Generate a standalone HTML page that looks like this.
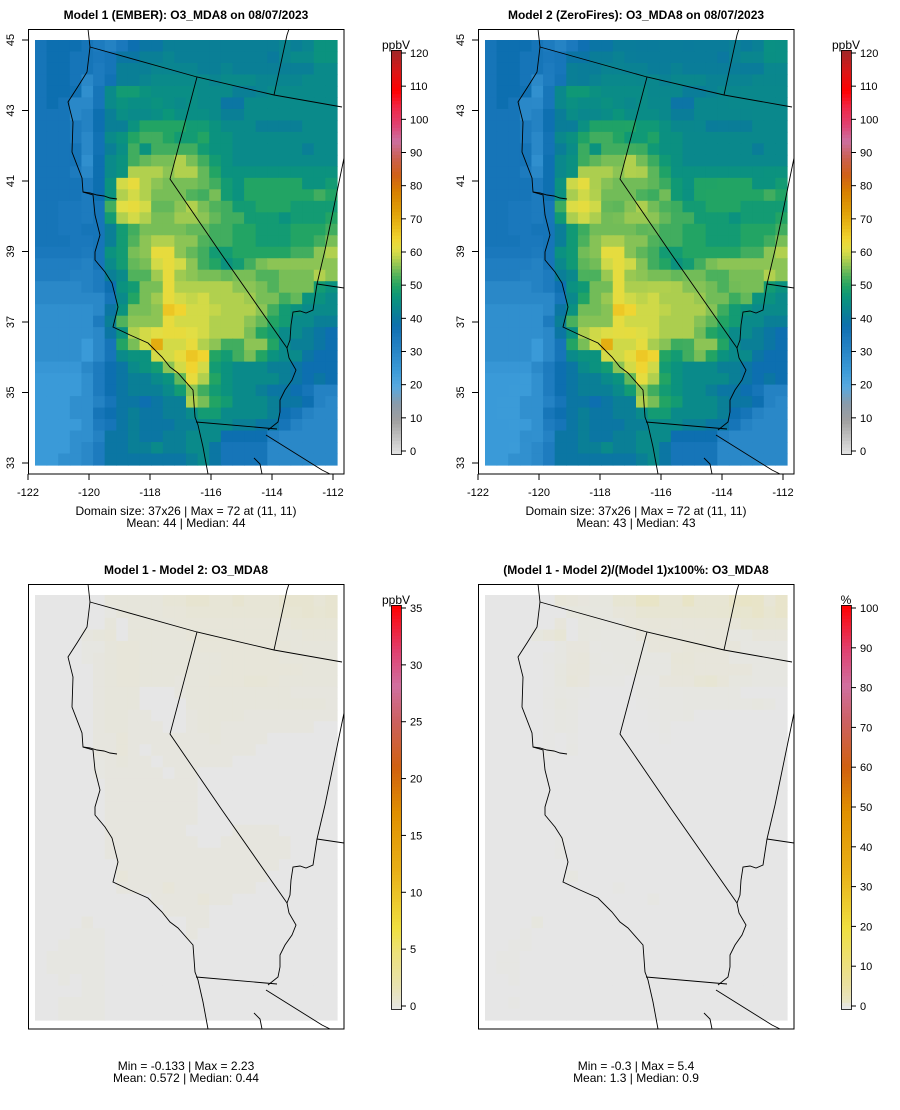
<!DOCTYPE html>
<html><head><meta charset="utf-8"><style>
html,body{margin:0;padding:0;background:#fff;overflow:hidden;}
svg{display:block;font-family:"Liberation Sans",Arial,sans-serif;}
</style></head><body>
<svg id="fig" width="900" height="1110" viewBox="0 0 900 1110" xmlns="http://www.w3.org/2000/svg"></svg>
<script>
// ---- data ----
const model1 = [
[36,38,38,38,36,34,32,35,38,40,40,42,42,42,42,42,42,42,42,42,42,43,42,43,46,46],
[36,38,38,36,36,35,36,40,40,42,42,43,42,42,42,42,42,42,42,42,41,43,44,44,46,46],
[36,38,38,36,36,34,36,42,42,42,43,43,43,43,42,42,43,42,42,42,42,42,42,42,44,44],
[36,38,38,36,30,34,37,42,42,43,44,44,44,44,44,43,44,44,44,43,43,43,43,44,44,44],
[36,38,38,37,28,36,44,48,48,46,45,45,45,45,44,44,44,42,42,43,44,44,44,44,44,44],
[36,38,36,30,30,36,44,46,45,45,46,45,44,45,44,44,40,40,44,44,44,44,44,44,44,44],
[36,36,36,30,32,38,42,45,44,44,45,47,45,45,45,44,42,42,44,44,44,44,44,44,44,44],
[36,36,36,34,32,38,42,42,46,50,50,50,50,48,48,46,44,44,44,42,42,42,42,44,44,44],
[36,36,36,34,30,37,44,46,50,52,52,50,48,48,50,46,46,44,44,44,44,44,44,44,44,44],
[36,36,36,36,30,37,42,45,52,46,52,52,52,52,48,46,46,44,44,44,44,44,44,42,44,44],
[36,36,36,36,28,38,44,46,52,54,55,55,58,55,52,48,46,44,44,44,44,44,44,44,44,44],
[36,36,36,34,30,38,44,46,58,58,58,56,58,58,54,50,46,46,46,46,46,46,46,46,46,46],
[36,36,36,36,34,38,46,60,62,58,56,55,55,55,54,52,48,46,50,50,50,50,50,46,46,48],
[36,36,36,36,34,38,46,58,60,58,55,55,55,53,52,55,48,46,50,50,50,50,50,50,52,50],
[36,36,35,35,34,36,52,61,62,60,54,54,56,58,55,53,52,48,48,50,50,50,48,48,48,48],
[36,36,35,35,34,36,48,58,60,58,55,55,57,57,56,54,52,52,48,48,48,46,48,48,48,50],
[36,36,35,35,36,36,42,48,52,55,55,55,55,54,54,52,52,50,50,48,48,48,50,50,50,52],
[36,36,36,35,35,36,42,48,53,56,58,58,56,56,53,52,52,50,50,48,48,48,50,50,52,55],
[35,35,35,35,34,36,46,48,55,56,62,62,56,54,52,48,48,50,50,50,50,50,52,52,56,58],
[33,33,33,33,32,36,44,48,54,55,60,62,60,56,52,50,46,48,52,55,56,56,56,56,56,56],
[33,33,33,32,32,34,42,44,53,53,57,62,57,56,55,55,54,55,55,53,53,55,55,55,58,56],
[30,30,30,30,32,34,38,46,48,55,55,62,58,58,58,58,58,56,56,55,53,55,55,55,48,46],
[30,30,30,30,30,30,36,44,50,55,57,62,60,59,60,58,58,58,57,55,55,52,54,46,46,44],
[28,28,28,28,28,30,40,46,55,55,56,66,64,60,60,59,58,58,58,56,52,48,46,44,44,44],
[28,28,28,28,28,34,42,53,56,56,56,62,60,60,60,58,58,58,56,54,50,48,44,44,42,42],
[28,28,28,28,28,30,40,46,58,60,61,62,62,61,60,58,58,58,55,50,48,44,44,42,40,38],
[28,28,28,28,25,30,36,50,55,60,70,60,60,62,58,56,52,52,56,56,50,44,42,42,40,38],
[28,28,28,28,25,30,36,44,46,46,60,60,62,66,64,50,48,52,55,50,46,44,44,40,38,38],
[26,26,26,26,30,34,38,40,44,46,48,56,60,64,60,48,46,44,44,44,42,42,40,38,38,38],
[25,25,25,25,28,34,38,40,42,42,44,46,54,62,58,50,46,44,44,44,44,42,40,38,40,38],
[25,25,25,25,28,34,38,40,42,42,42,44,48,56,52,48,46,44,44,42,40,40,38,36,32,32],
[25,25,25,28,28,32,36,40,40,38,40,42,42,58,55,50,48,44,44,44,42,40,40,38,32,30],
[25,25,25,28,28,36,38,40,42,40,40,42,42,44,48,48,44,44,44,44,42,38,36,32,30,30],
[25,25,25,25,28,34,36,40,42,40,40,40,42,42,44,44,44,42,42,40,40,36,32,30,30,30],
[25,25,25,28,28,32,40,40,42,40,40,42,42,44,44,44,38,38,38,38,32,30,30,30,30,30],
[25,25,25,28,30,34,40,40,42,42,44,42,42,44,44,40,36,36,36,36,30,30,30,30,30,30],
[25,25,28,28,30,34,40,40,40,40,40,40,40,42,44,40,36,36,36,36,30,30,30,30,30,30]
];
const diff = [
[0,0,0,0,0,0,0.4,0.4,0.4,0.4,0.4,0.6,0.6,0.8,0.8,0.6,0.6,0.8,0.6,0.6,0.6,0.8,0.8,0.8,0.6,0.8],
[0,0,0,0,0,0,0.2,0.4,0.4,0.4,0.4,0.5,0.5,0.6,0.6,0.6,0.6,0.6,0.6,0.6,0.6,0.7,0.7,0.8,0.7,0.8],
[0,0,0,0,0,0,0.4,0,0.4,0.4,0.4,0.4,0.5,0.5,0.5,0.5,0.5,0.5,0.5,0.5,0.5,0.5,0.6,0.6,0.6,0.6],
[0,0,0,0,0.3,0.4,0.5,0,0.4,0.4,0.4,0.4,0.4,0.5,0.5,0.5,0.5,0.5,0.5,0.5,0.5,0.4,0.4,0.5,0.5,0.5],
[0,0,0,0,0.2,0.2,0.4,0.5,0.5,0.4,0.4,0.4,0.4,0.4,0.5,0.5,0.5,0.5,0.5,0.5,0.5,0.5,0.4,0.4,0.4,0.4],
[0,0,0,0,0.2,0.3,0.4,0.5,0.5,0.4,0.4,0.4,0.4,0.4,0.4,0.4,0.5,0.5,0.5,0.5,0.5,0.4,0.4,0.4,0.4,0.4],
[0,0,0,0,0,0.3,0.4,0.5,0.5,0.4,0.4,0.4,0.4,0.4,0.4,0.4,0.5,0.5,0.5,0.5,0.5,0.5,0.5,0.4,0.4,0.4],
[0,0,0,0,0,0.3,0.4,0.5,0.5,0.4,0.4,0.4,0.3,0.4,0.4,0.5,0.5,0.5,0.6,0.6,0.5,0.4,0.4,0.4,0.4,0.4],
[0,0,0,0,0,0.3,0.4,0.4,0.4,0,0,0,0.3,0.4,0.4,0.4,0.4,0.4,0.4,0.4,0.4,0.4,0.3,0.3,0.3,0.3],
[0,0,0,0,0,0.3,0.4,0.4,0.4,0,0,0,0,0.4,0.4,0.4,0.4,0.4,0.4,0.4,0.4,0.4,0.4,0.4,0.4,0.3],
[0,0,0,0,0,0.3,0.4,0.4,0.3,0.3,0,0,0,0.3,0.4,0.4,0.4,0.4,0.3,0.3,0.3,0.3,0.3,0.3,0.3,0.3],
[0,0,0,0,0,0.3,0.4,0.4,0.3,0.3,0.3,0,0,0.3,0.4,0.4,0.3,0.3,0.3,0.3,0.3,0.3,0.3,0.3,0,0],
[0,0,0,0,0,0.3,0.3,0.5,0.3,0.3,0.3,0.3,0.3,0.3,0.3,0.4,0.3,0.3,0.3,0.3,0,0,0,0,0,0],
[0,0,0,0,0,0.3,0.3,0.5,0.3,0,0.3,0.3,0.3,0.3,0.3,0.3,0.3,0.3,0.3,0,0,0,0,0,0,0],
[0,0,0,0,0,0.2,0.3,0.4,0.3,0.3,0,0.3,0.3,0.3,0.3,0.3,0.3,0,0,0,0,0,0,0,0,0],
[0,0,0,0,0,0.2,0.3,0.3,0.3,0.3,0.3,0,0.3,0.3,0,0,0,0,0,0,0,0,0,0,0,0],
[0,0,0,0,0,0,0.3,0.3,0.3,0.3,0.3,0.3,0.3,0.3,0,0,0,0,0,0,0,0,0,0,0,0],
[0,0,0,0,0,0,0.3,0.3,0.3,0.3,0.3,0.3,0.3,0.3,0,0,0,0,0,0,0,0,0,0,0,0],
[0,0,0,0,0,0,0.3,0.3,0.3,0.3,0.3,0.3,0.3,0.3,0,0,0,0,0,0,0,0,0,0,0,0],
[0,0,0,0,0,0,0.3,0.3,0.3,0.3,0.3,0.3,0.3,0.3,0,0,0,0,0,0,0,0,0,0,0,0],
[0,0,0,0,0,0,0.3,0.3,0.3,0.3,0.3,0.3,0.3,0,0,0,0,0.3,0.3,0.3,0.3,0,0,0,0,0],
[0,0,0,0,0,0,0.3,0.3,0.3,0.3,0.3,0.3,0.3,0.3,0,0,0.3,0.3,0.3,0.3,0.3,0.3,0,0,0,0],
[0,0,0,0,0,0,0.3,0.3,0.3,0.3,0.3,0.3,0.3,0.3,0.3,0.3,0.3,0.3,0.3,0.3,0.3,0.3,0,0,0,0],
[0,0,0,0,0,0,0,0.3,0.3,0.3,0.3,0.3,0.3,0.3,0.3,0.3,0.3,0.3,0.3,0.3,0.3,0,0,0,0,0],
[0,0,0,0,0,0,0,0.5,0.3,0.3,0.3,0.3,0.3,0.3,0.3,0.3,0.3,0.3,0.3,0.3,0,0,0,0,0,0],
[0,0,0,0,0,0,0,0.3,0.3,0.3,0.3,0.5,0.3,0.3,0.3,0.3,0.3,0.3,0.3,0,0,0,0,0,0,0],
[0,0,0,0,0,0,0,0,0,0,0.3,0.3,0.3,0.3,0.5,0.3,0.3,0,0,0,0,0,0,0,0,0],
[0,0,0,0,0,0,0,0,0,0,0,0.3,0.3,0.3,0.3,0,0,0,0,0,0,0,0,0,0,0],
[0,0,0,0,0.3,0,0,0,0,0,0,0,0,0.3,0.3,0,0,0,0,0,0,0,0,0,0,0],
[0,0,0,0.2,0.2,0.2,0,0,0,0,0,0,0,0.3,0,0,0,0,0,0,0,0,0,0,0,0],
[0,0,0.2,0.2,0.2,0.2,0,0,0,0,0,0,0,0,0,0,0,0,0,0,0,0,0,0,0,0],
[0,0.2,0.2,0.2,0.2,0.2,0,0,0,0,0,0,0,0,0,0,0,0,0,0,0,0,0,0,0,0],
[0,0.2,0.2,0.2,0.2,0.2,0,0,0,0,0,0,0,0,0,0,0,0,0,0,0,0,0,0,0,0],
[0,0,0.2,0,0.2,0.2,0,0,0,0,0,0,0,0,0,0,0,0,0,0,0,0,0,0,0,0],
[0,0,0,0,0.2,0.2,0,0,0,0,0,0,0,0,0,0,0,0,0,0,0,0,0,0,0,0],
[0,0,0.2,0.2,0.2,0.2,0,0,0,0,0,0,0,0,0,0,0,0,0,0,0,0,0,0,0,0],
[0,0,0.2,0.2,0.2,0.2,0,0,0,0,0,0,0,0,0,0,0,0,0,0,0,0,0,0,0,0]
];
const xTickLabels = [-122,-120,-118,-116,-114,-112];
const yTickLabels = [33,35,37,39,41,43,45];
const ticksO3 = [0,10,20,30,40,50,60,70,80,90,100,110,120];
const ticksDiff = [0,5,10,15,20,25,30,35];
const ticksPct = [0,10,20,30,40,50,60,70,80,90,100];

// ---- helpers ----
const NS='http://www.w3.org/2000/svg';
const svg=document.getElementById('fig');
function mk(tag,attrs,parent){const e=document.createElementNS(NS,tag);for(const k in attrs)e.setAttribute(k,attrs[k]);(parent||svg).appendChild(e);return e;}
function hex(h){return [parseInt(h.slice(1,3),16),parseInt(h.slice(3,5),16),parseInt(h.slice(5,7),16)];}
function scaleColor(stops,v){
  if(v<=stops[0][0])return stops[0][1];
  for(let i=1;i<stops.length;i++){
    if(v<=stops[i][0]){const a=stops[i-1],b=stops[i];const t=(v-a[0])/(b[0]-a[0]);const ca=hex(a[1]),cb=hex(b[1]);
      return 'rgb('+ca.map((c,j)=>Math.round(c+(cb[j]-c)*t)).join(',')+')';}
  }
  return stops[stops.length-1][1];
}
const stopsO3=[[0,'#e2e2e2'],[10,'#a0a0a0'],[15,'#8a9aaa'],[20,'#58aae0'],[25,'#3a9ad8'],[30,'#2a88c8'],[35,'#1a78bc'],[38,'#0d6fb0'],[41,'#0a7a9c'],[44,'#0a8a8a'],[47,'#0b967a'],[50,'#22a464'],[53,'#50b25c'],[56,'#8cc455'],[59,'#c4d64a'],[61,'#e2de44'],[64,'#f0d430'],[68,'#e8b818'],[72,'#e0a008'],[78,'#d88000'],[83,'#d06018'],[88,'#cc6050'],[93,'#cc70a0'],[98,'#e04070'],[103,'#f02848'],[108,'#ff0000'],[114,'#d81818'],[120,'#a02828']];
const stopsDiff=[[0,'#e6e6e6'],[2,'#e8e2b0'],[5,'#ede178'],[7,'#f0e040'],[12,'#e8b018'],[17,'#e09000'],[21,'#d06010'],[25,'#cc6060'],[28,'#d070a0'],[31,'#e04070'],[35,'#ff0000']];
const stopsPct=[[0,'#e6e6e6'],[0.7,'#e6e6e6'],[2,'#e8e4c4'],[6,'#eae0a0'],[20,'#f0e040'],[34,'#e8b018'],[49,'#e09000'],[60,'#d06010'],[71,'#cc6060'],[80,'#d070a0'],[89,'#e04070'],[100,'#ff0000']];

const NR=37,NC=26,GX=35,GY=40,CW=302/26,CH=425/37;
function colX(c){return GX+c*CW;}
function rowY(r){return GY+r*CH;}

// geographic line geometry (pixel, relative to panel 1)
const lines=[
 [[88,29],[90,47],[87,72],[77,88],[68,102],[73,122],[72,152],[82,178],[83,192],[93,195],[95,215],[100,235],[95,252],[95,260],[105,272],[112,283],[118,307],[113,327],[130,335],[148,343],[162,357],[170,367],[178,373],[193,390],[195,417],[198,425],[203,447],[208,474]],
 [[83,192],[90,193],[97,195],[104,196],[110,198],[117,199]],
 [[90,47],[197,77],[274,95],[342,107]],
 [[274,95],[287,35],[289,29]],
 [[197,77],[170,179],[222,255],[287,348]],
 [[344,158],[325,250],[317,284],[313,310],[306,313],[300,311],[293,312],[291,325],[290,340],[287,348],[289,358],[296,370],[292,380],[285,390],[280,400],[280,412],[278,422],[268,430]],
 [[317,284],[344,288]],
 [[196,422],[277,429]],
 [[266,435],[322,470],[330,474]],
 [[254,458],[260,464],[262,474]]
];

function panel(px,py,name,title,stops,hasAxes,lab1,lab2,cbTicks,cbMax,cbUnit,fn){
  const g=mk('g',{transform:'translate('+px+','+py+')'});
  
  
  const t=mk('text',{x:186,y:19,'text-anchor':'middle','font-size':'12','font-weight':'bold',fill:'#000'},g);
  t.textContent=title;
  
  
  const cells=mk('g',{},g);
  
  
  for(let r=0;r<NR;r++)for(let c=0;c<NC;c++){
    const v=fn(r,c);
    const rc=mk('rect',{x:colX(c).toFixed(2),y:rowY(r).toFixed(2),width:(CW+0.6).toFixed(2),height:(CH+0.6).toFixed(2),fill:scaleColor(stops,v)},cells);
    
    
  }
  const bd=mk('g',{fill:'none',stroke:'#000','stroke-width':'0.9'},g);
  
  
  lines.forEach(l=>{const p=mk('polyline',{points:l.map(q=>q.join(',')).join(' ')},bd);
    
    });
  const box=mk('rect',{x:28.5,y:29.5,width:315.5,height:444.5,fill:'none',stroke:'#000','stroke-width':'1'},g);
  
  
  if(hasAxes){
    const ax=mk('g',{},g);
    
    
    xTickLabels.forEach(v=>{const x=28+(v+122)*30.5;
      mk('line',{x1:x,y1:474,x2:x,y2:480,stroke:'#000'},ax);
      const tt=mk('text',{x:x,y:496,'text-anchor':'middle','font-size':'11'},ax);tt.textContent=v;
      
      });
    yTickLabels.forEach(v=>{const y=40+(45-v)*35.25;
      mk('line',{x1:22,y1:y,x2:28,y2:y,stroke:'#000'},ax);
      const tt=mk('text',{x:0,y:0,'text-anchor':'middle','font-size':'11',transform:'translate(14,'+y+') rotate(-90)'},ax);tt.textContent=v;
      
      });
  }
  const s1=mk('text',{x:186,y:hasAxes?515:515,'text-anchor':'middle','font-size':'12'},g);
  s1.textContent=lab1;
  
  
  const s2=mk('text',{x:186,y:527,'text-anchor':'middle','font-size':'12'},g);
  s2.textContent=lab2;
  
  
  const cb=mk('g',{},g);
  
  
  const top=50,bot=454,n=120;
  for(let i=0;i<n;i++){const v0=cbMax*i/n;const y=bot-(i+1)*(bot-top)/n;
    mk('rect',{x:391,y:y.toFixed(2),width:10,height:((bot-top)/n+0.5).toFixed(2),fill:scaleColor(stops,v0+cbMax/n/2)},cb);}
  mk('rect',{x:391.5,y:top+0.5,width:10,height:bot-top,fill:'none',stroke:'#000','stroke-width':'0.8'},cb);
  const un=mk('text',{x:396,y:top-1,'text-anchor':'middle','font-size':'12'},cb);un.textContent=cbUnit;
  
  
  cbTicks.forEach(v=>{const y=bot-3-(v/cbMax)*(bot-top-6);
    mk('line',{x1:401,y1:y,x2:406,y2:y,stroke:'#000'},cb);
    const tt=mk('text',{x:410,y:y+4,'font-size':'11'},cb);tt.textContent=v;
    
    });
}

panel(0,0,'panel-model1','Model 1 (EMBER): O3_MDA8 on 08/07/2023',stopsO3,true,
 'Domain size: 37x26 | Max = 72 at (11, 11)','Mean: 44 |  Median: 44',ticksO3,120,'ppbV',(r,c)=>model1[r][c]);
panel(450,0,'panel-model2','Model 2 (ZeroFires): O3_MDA8 on 08/07/2023',stopsO3,true,
 'Domain size: 37x26 | Max = 72 at (11, 11)','Mean: 43 |  Median: 43',ticksO3,120,'ppbV',(r,c)=>model1[r][c]-diff[r][c]);
panel(0,555,'panel-difference','Model 1 - Model 2: O3_MDA8',stopsDiff,false,
 'Min = -0.133 | Max = 2.23','Mean: 0.572 |  Median: 0.44',ticksDiff,35,'ppbV',(r,c)=>diff[r][c]);
panel(450,555,'panel-percent-difference','(Model 1 - Model 2)/(Model 1)x100%: O3_MDA8',stopsPct,false,
 'Min = -0.3 | Max = 5.4','Mean: 1.3 |  Median: 0.9',ticksPct,100,'%',(r,c)=>diff[r][c]/model1[r][c]*100);
</script>
</body></html>
